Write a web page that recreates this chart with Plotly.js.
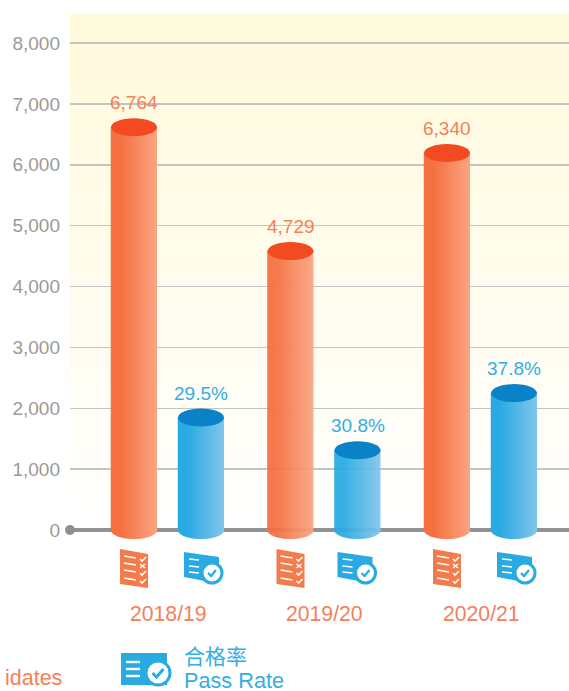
<!DOCTYPE html>
<html><head><meta charset="utf-8">
<script src="https://cdn.plot.ly/plotly-3.0.1.min.js"></script>
<style>html,body{margin:0;padding:0;background:#fff;overflow:hidden}</style>
</head><body><div id="chart" style="width:569px;height:691px"></div>
<script>
const years = ['2018/19','2019/20','2020/21'];
const candidates = [6764,4729,6340];
const passed = [1995,1457,2397];
const passRates = ['29.5%','30.8%','37.8%'];
const tickVals = [0,1000,2000,3000,4000,5000,6000,7000,8000];

const W=569,H=691,L=70,T=14;
const zeroPx=530, unitPx=487/8000, groupPx=156.5, centerPx=167.5;
const xr=p=>(p-centerPx)/groupPx;
const px=(p)=>(p-L)/(W-L), py=(p)=>(H-p)/(H-T);
const barW=46/groupPx, off=33.5/groupPx, capH=18/unitPx;

function mix(a,b,t){return 'rgb('+a.map((v,i)=>Math.round(v+(b[i]-v)*t)).join(',')+')';}
function shade(c1,c2,t){return mix(c1,c2,t<.2?0:(t-.2)/.8);}

function cylinder(vals,offset,c1,c2,name){
  const N=46,xs=[],ws=[],bs=[],hs=[],cs=[];
  vals.forEach((v,i)=>{
    for(let k=0;k<N;k++){
      const t=(k+.5)/N, u=2*t-1, b=-capH/2*Math.sqrt(1-u*u);
      xs.push(i+offset-barW/2+barW*t);
      ws.push(barW/N*(k<N-1?1.5:1));
      bs.push(b);hs.push(v-capH/2-b);cs.push(shade(c1,c2,t));
    }
  });
  return {type:'bar',name,x:xs,y:hs,base:bs,width:ws,marker:{color:cs,line:{width:0}},hoverinfo:'skip',showlegend:false};
}

const OC1=[244,112,64],OC2=[251,164,130],BC1=[41,171,226],BC2=[130,197,235];
const ORANGE='#F5805A',BLUE='#34ADE4',ICON_O='#F47B4C',ICON_B='#29ABE2';
const FONT='"Liberation Sans", Arial, sans-serif';

const traces=[
  cylinder(candidates,-off,OC1,OC2,'Candidates'),
  cylinder(passed,off,BC1,BC2,'Pass Rate'),
  {type:'scatter',mode:'markers',x:[xr(L)],y:[0],marker:{size:10,color:'#8f8f92'},hoverinfo:'skip',showlegend:false,cliponaxis:false}
];

const shapes=[];
// soft yellow background fading to white towards the baseline
const bands=60, topV=(zeroPx-T)/unitPx;
for(let i=0;i<bands;i++){
  const t=i/bands;
  shapes.push({type:'rect',layer:'below',xref:'paper',x0:0,x1:1,yref:'y',y0:topV*t,y1:topV*(t+1/bands)+2,
    line:{width:0},fillcolor:mix([255,255,255],[255,250,220],Math.min(1,(t+.5/bands)*1.05))});
}
// cylinder caps
candidates.forEach((v,i)=>shapes.push({type:'circle',xref:'x',yref:'y',x0:i-off-barW/2,x1:i-off+barW/2,y0:v-capH,y1:v,line:{width:0},fillcolor:'#F44A21'}));
passed.forEach((v,i)=>shapes.push({type:'circle',xref:'x',yref:'y',x0:i+off-barW/2,x1:i+off+barW/2,y0:v-capH,y1:v,line:{width:0},fillcolor:'#0A82C8'}));

// pixel-sized icon parts anchored to an axis position; offsets use screen-down y
function P(points,close){return points.map((p,i)=>(i?'L':'M')+p[0]+','+(-p[1])).join(' ')+(close?' Z':'');}
function anchored(ax,ay,o){return Object.assign({xref:'x',yref:'y',xsizemode:'pixel',ysizemode:'pixel',xanchor:ax,yanchor:ay},o);}
function fillPath(ax,ay,pts,c){shapes.push(anchored(ax,ay,{type:'path',path:P(pts,true),fillcolor:c,line:{width:0}}));}
function strokePath(ax,ay,pts,c,w){shapes.push(anchored(ax,ay,{type:'path',path:P(pts,false),line:{color:c,width:w}}));}
function disc(ax,ay,cx,cy,r,c){shapes.push(anchored(ax,ay,{type:'circle',x0:cx-r,x1:cx+r,y0:-(cy-r),y1:-(cy+r),fillcolor:c,line:{width:0}}));}

function paperIcon(ax){
  fillPath(ax,0,[[-14,19],[14,24],[14,58],[-14,54]],ICON_O);
  [27,34,41,49].forEach((y,k)=>{
    strokePath(ax,0,[[-10,y-1],[2,y+1]],'#fff',1.5);
    const cx=9, cy=y+2;
    if(k===1){strokePath(ax,0,[[cx-3,cy-2],[cx+2,cy+2]],'#fff',1.6);strokePath(ax,0,[[cx-3,cy+2],[cx+2,cy-2]],'#fff',1.6);}
    else strokePath(ax,0,[[cx-3,cy],[cx-1,cy+2],[cx+3,cy-2]],'#fff',1.6);
  });
}
function passIcon(ax){
  fillPath(ax,0,[[-17,22],[18,27],[18,46],[4,51],[-17,47]],ICON_B);
  [29,36,42].forEach(y=>strokePath(ax,0,[[-12,y],[-2,y+1]],'#fff',1.5));
  disc(ax,0,11,43,11.5,ICON_B);
  disc(ax,0,11,43,8.5,'#fff');
  strokePath(ax,0,[[7,43],[10,46],[15,40]],ICON_B,2.2);
}
const passIconNudge=[0,-3/groupPx,0];
candidates.forEach((_,i)=>paperIcon(i-off));
passed.forEach((_,i)=>passIcon(i+off+passIconNudge[i]));

// legend icon
const lx=xr(121);
fillPath(lx,0,[[0,123],[46,123],[46,155],[0,155]],ICON_B);
[131,138,145].forEach(y=>strokePath(lx,0,[[5,y+1],[19,y+1]],'#fff',2.4));
disc(lx,0,37,143,13.5,ICON_B);
disc(lx,0,37,143,10.5,'#fff');
strokePath(lx,0,[[31.5,143],[35.5,147],[42.5,139]],ICON_B,3);

const annotations=years.map((y,i)=>({xref:'x',yref:'paper',x:i,xshift:0.5,y:py(613),text:y,showarrow:false,xanchor:'center',yanchor:'middle',
  font:{family:FONT,size:21.2,color:ORANGE}}));
candidates.forEach((v,i)=>annotations.push({xref:'x',yref:'y',x:i-off,y:v,yshift:3,text:v.toLocaleString('en-US'),showarrow:false,
  xanchor:'center',yanchor:'bottom',font:{family:FONT,size:19,color:ORANGE}}));
passed.forEach((v,i)=>annotations.push({xref:'x',yref:'y',x:i+off,y:v,yshift:3,text:passRates[i],showarrow:false,
  xanchor:'center',yanchor:'bottom',font:{family:FONT,size:19,color:BLUE}}));
annotations.push(
 {xref:'paper',yref:'paper',x:px(62.5),y:py(678),text:'idates',showarrow:false,xanchor:'right',yanchor:'middle',borderpad:0,font:{family:FONT,size:21.5,color:ORANGE}},
 {xref:'paper',yref:'paper',x:px(183),y:py(666.5),showarrow:false,xanchor:'left',yanchor:'middle',align:'left',borderpad:0,
  text:'<span style="font-family:\'Noto Sans CJK TC\';font-size:21px">合格率</span><br><span style="font-size:21.7px">Pass Rate</span>',
  font:{family:FONT,size:18.5,color:BLUE}}
);

const layout={
  width:W,height:H,margin:{l:L,r:0,t:T,b:0,pad:0},paper_bgcolor:'#fff',plot_bgcolor:'rgba(0,0,0,0)',
  barmode:'overlay',showlegend:false,
  xaxis:{range:[xr(L),xr(W)],showgrid:false,zeroline:false,showticklabels:false,ticks:'',fixedrange:true},
  yaxis:{range:[-(H-zeroPx)/unitPx,(zeroPx-T)/unitPx],tickmode:'array',tickvals:tickVals,ticktext:tickVals.map(v=>v.toLocaleString('en-US')),
    showgrid:true,gridcolor:'#c4c4c4',gridwidth:1.5,zeroline:true,zerolinecolor:'#929295',zerolinewidth:4,
    ticks:'',ticklabelstandoff:9,tickfont:{family:FONT,size:19,color:'#9a9a9a'},fixedrange:true,showline:false},
  shapes,annotations
};
Plotly.newPlot('chart',traces,layout,{displayModeBar:false,staticPlot:true});
</script></body></html>
